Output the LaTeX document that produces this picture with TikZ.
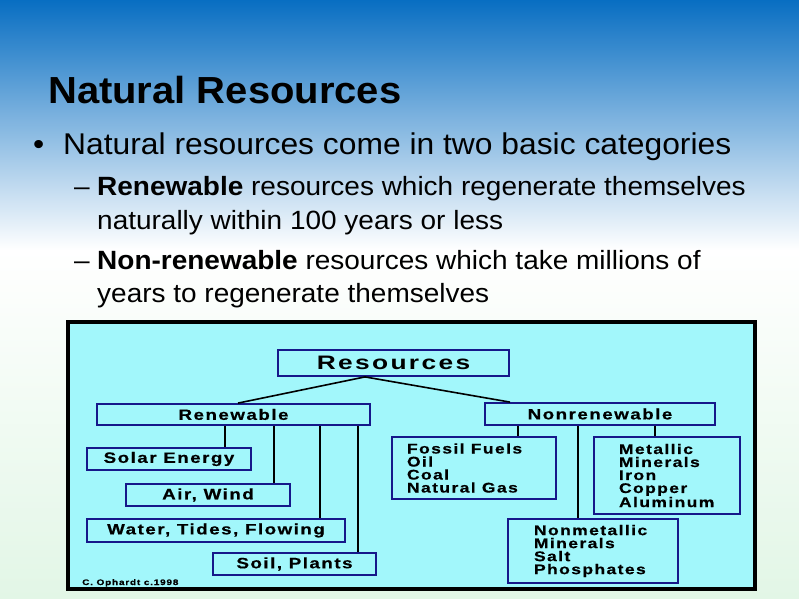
\documentclass[tikz,border=0pt]{standalone}
\usepackage{fontspec}
\setmainfont{Liberation Sans}[FakeStretch=1.06]
\newfontfamily\chartfont{Liberation Sans}[FakeStretch=1.25, LetterSpace=10, BoldFeatures={FakeBold=0.5}]
\newfontfamily\headfont{Liberation Sans}[FakeStretch=1.35, LetterSpace=12]
\usepackage{tikz}

\definecolor{slidetop}{RGB}{8,110,194}
\definecolor{slidebottom}{RGB}{226,246,230}
\definecolor{chartcyan}{RGB}{162,247,251}
\definecolor{boxblue}{RGB}{22,24,138}

\tikzset{
  rbox/.style={draw=boxblue, line width=1.8pt, fill=chartcyan, inner sep=0pt,
    font=\fontsize{15}{15}\chartfont\bfseries},
  listbox/.style={rbox, align=flush left, font=\fontsize{14}{13}\chartfont\bfseries},
  link/.style={line width=1.6pt, black},
  slidetext/.style={anchor=base west, inner sep=0pt, font=\fontsize{26.4}{27}\selectfont}
}

\begin{document}
\begin{tikzpicture}[x=1pt, y=-1pt]
\useasboundingbox (0,0) rectangle (799,598);
\shade[top color=slidetop, bottom color=white] (0,0) rectangle (799,250);
\shade[top color=white, bottom color=slidebottom] (0,250) rectangle (799,598);

\node[slidetext, font=\fontsize{37.7}{38}\selectfont\bfseries] (title) at (48,103) {Natural Resources};
\node[slidetext, font=\fontsize{30}{30}\selectfont] (dot) at (33,154) {•};
\node[slidetext, font=\fontsize{30}{30}\selectfont] (cats) at (63,154) {Natural resources come in two basic categories};
\node[slidetext] (dashA) at (74,195) {–};
\node[slidetext] (renA) at (97,195) {\textbf{Renewable} resources which regenerate themselves};
\node[slidetext] (renB) at (97,229) {naturally within 100 years or less};
\node[slidetext] (dashB) at (74,269) {–};
\node[slidetext] (nonA) at (97,269) {\textbf{Non-renewable} resources which take millions of};
\node[slidetext] (nonB) at (97,302) {years to regenerate themselves};

\draw[line width=3.5pt, fill=chartcyan] (68,322) rectangle (755,589);

\node[rbox, minimum width=231pt, minimum height=26pt, font=\fontsize{19.5}{19.5}\headfont\bfseries] (res) at (393.5,363) {Resources};
\node[rbox, minimum width=273pt, minimum height=21pt] (renew) at (233.5,414.5) {Renewable};
\node[rbox, minimum width=230pt, minimum height=22pt] (nonrenew) at (600,414) {Nonrenewable};

\node[rbox, minimum width=164pt, minimum height=22pt] (solar) at (169,459) {Solar Energy};
\node[rbox, minimum width=164pt, minimum height=22pt] (air) at (208,495) {Air, Wind};
\node[rbox, minimum width=258pt, minimum height=23pt] (water) at (216,530.5) {Water, Tides, Flowing};
\node[rbox, minimum width=163pt, minimum height=22pt] (soil) at (294.5,564) {Soil, Plants};

\node[listbox, inner xsep=15pt, text width=134pt, minimum height=62pt] (fossil) at (474,468)
  {Fossil Fuels\\Oil\\Coal\\Natural Gas};
\node[listbox, inner xsep=25pt, text width=96pt, minimum height=77pt] (metal) at (667,475.5)
  {Metallic\\Minerals\\Iron\\Copper\\Aluminum};
\node[listbox, inner xsep=26pt, text width=118pt, minimum height=64pt] (nonmet) at (593,551)
  {Nonmetallic\\Minerals\\Salt\\Phosphates};

\node[anchor=base west, inner sep=0pt, font=\fontsize{8}{8}\chartfont\bfseries] (credit) at (82,585) {C. Ophardt c.1998};

\draw[link] ([xshift=-28.5pt]res.south) -- ([xshift=4.5pt]renew.north);
\draw[link] ([xshift=-28.5pt]res.south) -- ([xshift=-90pt]nonrenew.north);
\foreach \dx/\kid in {129/solar, 178/air, 224/water, 262/soil}
  \draw[link] ([xshift=\dx pt]renew.south west) coordinate (drop) -- (drop |- \kid.north);
\foreach \dx/\kid in {34/fossil, 94/nonmet, 171/metal}
  \draw[link] ([xshift=\dx pt]nonrenew.south west) coordinate (drop) -- (drop |- \kid.north);
\end{tikzpicture}
\end{document}
